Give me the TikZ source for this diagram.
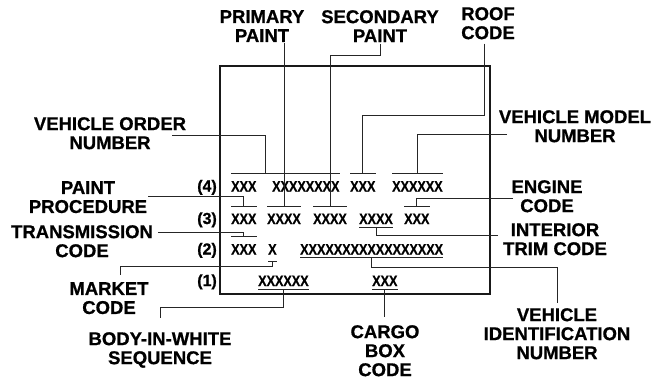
\documentclass[tikz,border=0pt]{standalone}
\usepackage{fontspec}
\setmainfont{Liberation Sans}
\newfontfamily\lblfont[FakeBold=0.8]{Liberation Sans Bold}
\newfontfamily\fieldfont[FakeStretch=0.84, FakeBold=0.6]{Liberation Sans Bold}
\usetikzlibrary{calc}

\begin{document}
\begin{tikzpicture}[
        x=1pt, y=-1pt,
        lbl/.style={font=\lblfont\fontsize{18.5}{19}\selectfont, align=center, inner sep=0pt, anchor=north},
        field/.style={font=\fieldfont\fontsize{15}{15}\selectfont, inner sep=0pt, text height=17.5pt, text depth=3pt, anchor=base west},
        rowno/.style={font=\lblfont\fontsize{16}{16}\selectfont, inner sep=0pt, anchor=base east},
        lead/.style={black!85, line width=0.7pt},
        bar/.style={black!85, line width=0.9pt},
        plate/.style={black!90, line width=1.8pt}
    ]
    \useasboundingbox (0,0) rectangle (661,381);

    % --- Cadre de l'etiquette ---
    \draw[plate] (220,66) rectangle (490,294);

    % --- Numeros de ligne ---
    \node[rowno] (n4) at (217,191.5) {(4)};
    \node[rowno] (n3) at (217,224) {(3)};
    \node[rowno] (n2) at (217,254.5) {(2)};
    \node[rowno] (n1) at (217,286) {(1)};

    % --- Champs codes ---
    \node[field] (r4a) at (231,191.5) {XXX};
    \node[field] (r4b) at (272,191.5) {XXXXXXXX};
    \node[field] (r4c) at (350,191.5) {XXX};
    \node[field] (r4d) at (392,191.5) {XXXXXX};
    \node[field] (r3a) at (231,224) {XXX};
    \node[field] (r3b) at (267,224) {XXXX};
    \node[field] (r3c) at (313,224) {XXXX};
    \node[field] (r3d) at (359,224) {XXXX};
    \node[field] (r3e) at (404,224) {XXX};
    \node[field] (r2a) at (231,254.5) {XXX};
    \node[field, text depth=7pt] (r2b) at (268,254.5) {X};
    \node[field] (r2c) at (300,254.5) {XXXXXXXXXXXXXXXXX};
    \node[field] (r1a) at (258,286) {XXXXXX};
    \node[field] (r1b) at (372,286) {XXX};

    % --- Traits au-dessus / au-dessous des champs ---
    \draw[bar] (r4a.north west) -- (r4b.north east);
    \foreach \f in {r4c,r4d,r3a,r3b,r3c,r3e,r2a}
        \draw[bar] (\f.north west) -- (\f.north east);
    \foreach \f in {r3d,r2b,r2c,r1a,r1b}
        \draw[bar] (\f.south west) -- (\f.south east);

    % --- Legendes ---
    \node[lbl] (pp) at (262,10) {PRIMARY\\PAINT};
    \node[lbl] (sp) at (380,10) {SECONDARY\\PAINT};
    \node[lbl] (rc) at (488,7) {ROOF\\CODE};
    \node[lbl] (von) at (110,117) {VEHICLE ORDER\\NUMBER};
    \node[lbl] (vmn) at (575,110) {VEHICLE MODEL\\NUMBER};
    \node[lbl] (ppr) at (88,181) {PAINT\\PROCEDURE};
    \node[lbl] (ec) at (547,180) {ENGINE\\CODE};
    \node[lbl] (tc) at (82,225) {TRANSMISSION\\CODE};
    \node[lbl] (itc) at (555,223) {INTERIOR\\TRIM CODE};
    \node[lbl] (mc) at (109,282) {MARKET\\CODE};
    \node[lbl] (biw) at (160,332) {BODY-IN-WHITE\\SEQUENCE};
    \node[lbl] (cbc) at (385,325) {CARGO\\BOX\\CODE};
    \node[lbl] (vin) at (557,308) {VEHICLE\\IDENTIFICATION\\NUMBER};

    % --- Points de depart des traits de rappel ---
    \coordinate (von-a) at (172,135);
    \coordinate (vmn-a) at (507,134);
    \coordinate (ppr-a) at (148,196);
    \coordinate (ec-a)  at (513,198);
    \coordinate (tc-a)  at (158,232);
    \coordinate (itc-a) at (498,235);
    \coordinate (mc-a)  at (120,275);

    % --- Traits de rappel ---
    \draw[lead] (von-a) -| ([xshift=9pt]r4a.north east);
    \draw[lead, shorten <=1pt] (pp.south -| r3b.north) -- (r3b.north);
    \draw[lead] ([yshift=-2pt]sp.south) -- ++(0,11) -| (r3c.north);
    \draw[lead] ([xshift=-4pt,yshift=-4pt]rc.south) -- ++(0,72) -| (r4c.north);
    \draw[lead] (vmn-a) -| (r4d.north);
    \draw[lead] (ppr-a) -| (r3a.north);
    \draw[lead] (ec-a) -| (r3e.north);
    \draw[lead] (itc-a) -| (r3d.south);
    \draw[lead] (tc-a) -| (r2a.north);
    \draw[lead] (r2b.south) -- ++(0,4.5) -| (mc-a);
    \draw[lead] (r2c.south) -- ++(0,9.5) -| ([yshift=5pt]vin.north);
    \draw[lead] (r1a.south) -- ++(0,18) -| ([yshift=14pt]biw.north);
    \draw[lead] (r1b.south) -- ++(0,28);

\end{tikzpicture}
\end{document}
